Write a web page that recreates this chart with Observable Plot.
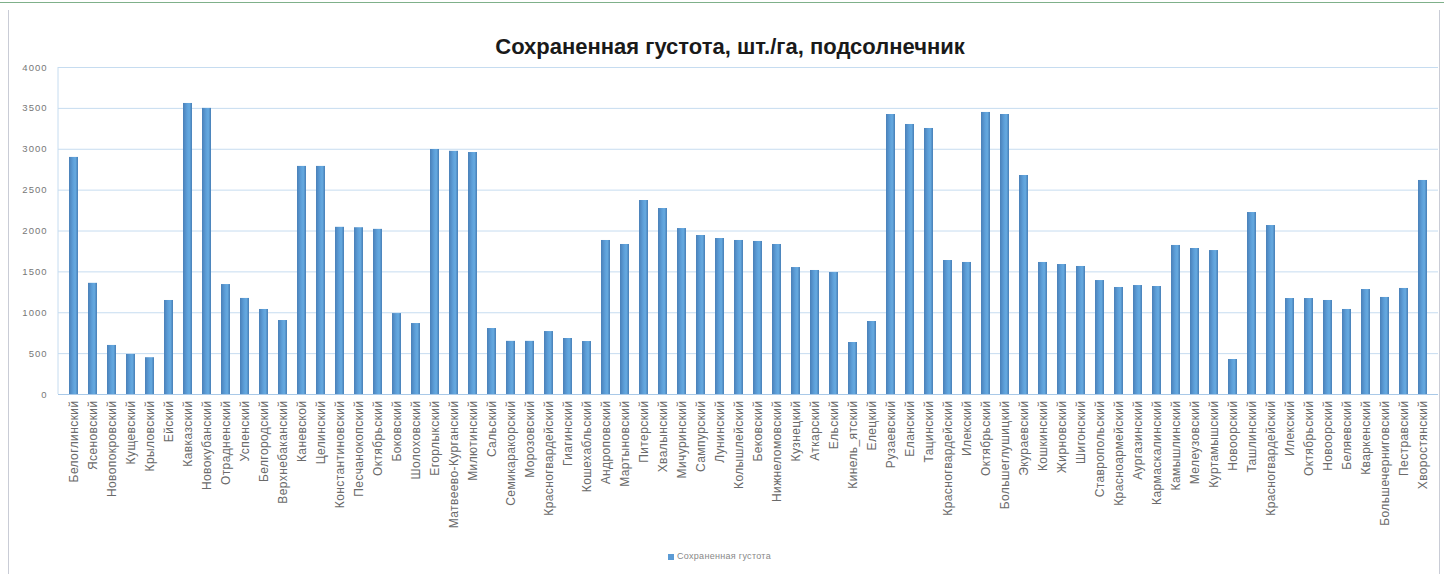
<!DOCTYPE html>
<html>
<head>
<meta charset="utf-8">
<script src="https://cdn.jsdelivr.net/npm/d3@7"></script>
<script src="https://cdn.jsdelivr.net/npm/@observablehq/plot@0.6"></script>
<style>
  body { margin: 0; background: #fff; }
  #wrap { position: relative; width: 1444px; height: 574px; overflow: hidden; background: #fff; font-family: "Liberation Sans", Arial, sans-serif; }
  #topline { position: absolute; left: 0; top: 2px; width: 1444px; height: 1px; background: #7fb08a; }
  #frame { position: absolute; left: 8px; top: 10px; width: 1430px; height: 570px; border-left: 1px solid #c9ccd6; border-right: 1px solid #c9ccd6; }
  #title { position: absolute; left: 0; top: 34px; width: 1460px; text-align: center; font-size: 22px; font-weight: bold; color: #1a1a1a; }
  #chart { position: absolute; left: 0; top: 60px; }
  #legend { position: absolute; left: 668px; top: 551px; font-size: 9px; color: #888; letter-spacing: 0.3px; }
  #legend span.sw { display: inline-block; width: 6px; height: 6px; background: #5b9bd5; margin-right: 3px; vertical-align: middle; }
  #chart svg g[aria-label="x-axis tick label"] text { letter-spacing: 0.4px; }
  #chart svg g[aria-label="y-axis tick label"] text { letter-spacing: 1px; }
</style>
</head>
<body>
<div id="wrap">
  <div id="topline"></div>
  <div id="frame"></div>
  <div id="title">Сохраненная густота, шт./га, подсолнечник</div>
  <div id="chart"></div>
  <div id="legend"><span class="sw"></span>Сохраненная густота</div>
</div>
<script>
const districts = [
  "Белоглинский","Ясеновский","Новопокровский","Кущевский","Крыловский","Ейский",
  "Кавказский","Новокубанский","Отрадненский","Успенский","Белгородский","Верхнебаканский",
  "Каневской","Целинский","Константиновский","Песчанокопский","Октябрьский","Боковский",
  "Шолоховский","Егорлыкский","Матвеево-Курганский","Милютинский","Сальский","Семикаракорский",
  "Морозовский","Красногвардейский","Гиагинский","Кошехабльский","Андроповский","Мартыновский",
  "Питерский","Хвалынский","Мичуринский","Сампурский","Лунинский","Колышлейский",
  "Бековский","Нижнеломовский","Кузнецкий","Аткарский","Ельский","Кинель_ятский",
  "Елецкий","Рузаевский","Еланский","Тацинский","Красногвардейский","Илекский",
  "Октябрьский","Большеглушицкий","Экураевский","Кошкинский","Жирновский","Шигонский",
  "Ставропольский","Красноармейский","Аургазинский","Кармаскалинский","Камышлинский","Мелеузовский",
  "Куртамышский","Новоорский","Ташлинский","Красногвардейский","Илекский","Октябрьский",
  "Новоорский","Беляевский","Кваркенский","Большечерниговский","Пестравский","Хворостянский"
];
const density = [
  2900,1360,600,490,450,1150,
  3560,3500,1345,1175,1040,905,
  2790,2790,2045,2040,2020,990,
  868,2997,2975,2960,807,650,
  650,770,685,648,1884,1835,
  2373,2275,2030,1945,1908,1884,
  1872,1835,1553,1517,1492,636,
  893,3425,3303,3254,1639,1615,
  3450,3425,2679,1615,1590,1566,
  1394,1309,1333,1321,1823,1786,
  1761,428,2226,2067,1174,1174,
  1150,1040,1284,1187,1297,2618
];
const yTicks = [0,500,1000,1500,2000,2500,3000,3500,4000];

const rows = density.map((v, i) => ({i, v}));

const plot = Plot.plot({
  width: 1444,
  height: 500,
  marginTop: 7,
  marginBottom: 166,
  marginLeft: 58,
  marginRight: 6,
  style: {fontFamily: "'Liberation Sans', Arial, sans-serif", color: "#777", background: "transparent", overflow: "visible"},
  x: {type: "band", domain: d3.range(districts.length), padding: 0.53, label: null},
  y: {domain: [0, 4000], label: null},
  marks: [
    Plot.gridY(yTicks.slice(1), {stroke: "#c6dcf0", strokeOpacity: 1, strokeWidth: 1}),
    Plot.barY(rows, {x: "i", y: "v", fill: "url(#barGrad)"}),
    Plot.ruleY([0], {stroke: "#a9c9e8", strokeWidth: 1.2}),
    Plot.axisY({ticks: yTicks, tickSize: 0, tickPadding: 11, fontSize: 9.5, fill: "#777", label: null, tickFormat: d => String(d)}),
    Plot.axisX({ticks: d3.range(districts.length), tickSize: 0, tickRotate: -90, tickPadding: 6, fontSize: 12, fill: "#6a6a6a", label: null, tickFormat: i => districts[i]})
  ]
});

// gradient definition for bars
const ns = "http://www.w3.org/2000/svg";
const defs = document.createElementNS(ns, "defs");
defs.innerHTML = `<linearGradient id="barGrad" x1="0" y1="0" x2="1" y2="0">
  <stop offset="0" stop-color="#4a80b8"/>
  <stop offset="0.45" stop-color="#5d9fd9"/>
  <stop offset="0.7" stop-color="#66aae0"/>
  <stop offset="1" stop-color="#477eb6"/>
</linearGradient>`;
plot.insertBefore(defs, plot.firstChild);

// left vertical plot edge line
const vline = document.createElementNS(ns, "line");
vline.setAttribute("x1", 58); vline.setAttribute("x2", 58);
vline.setAttribute("y1", 7); vline.setAttribute("y2", 334);
vline.setAttribute("stroke", "#c6dcf0");
plot.appendChild(vline);

document.getElementById("chart").appendChild(plot);
</script>
</body>
</html>
